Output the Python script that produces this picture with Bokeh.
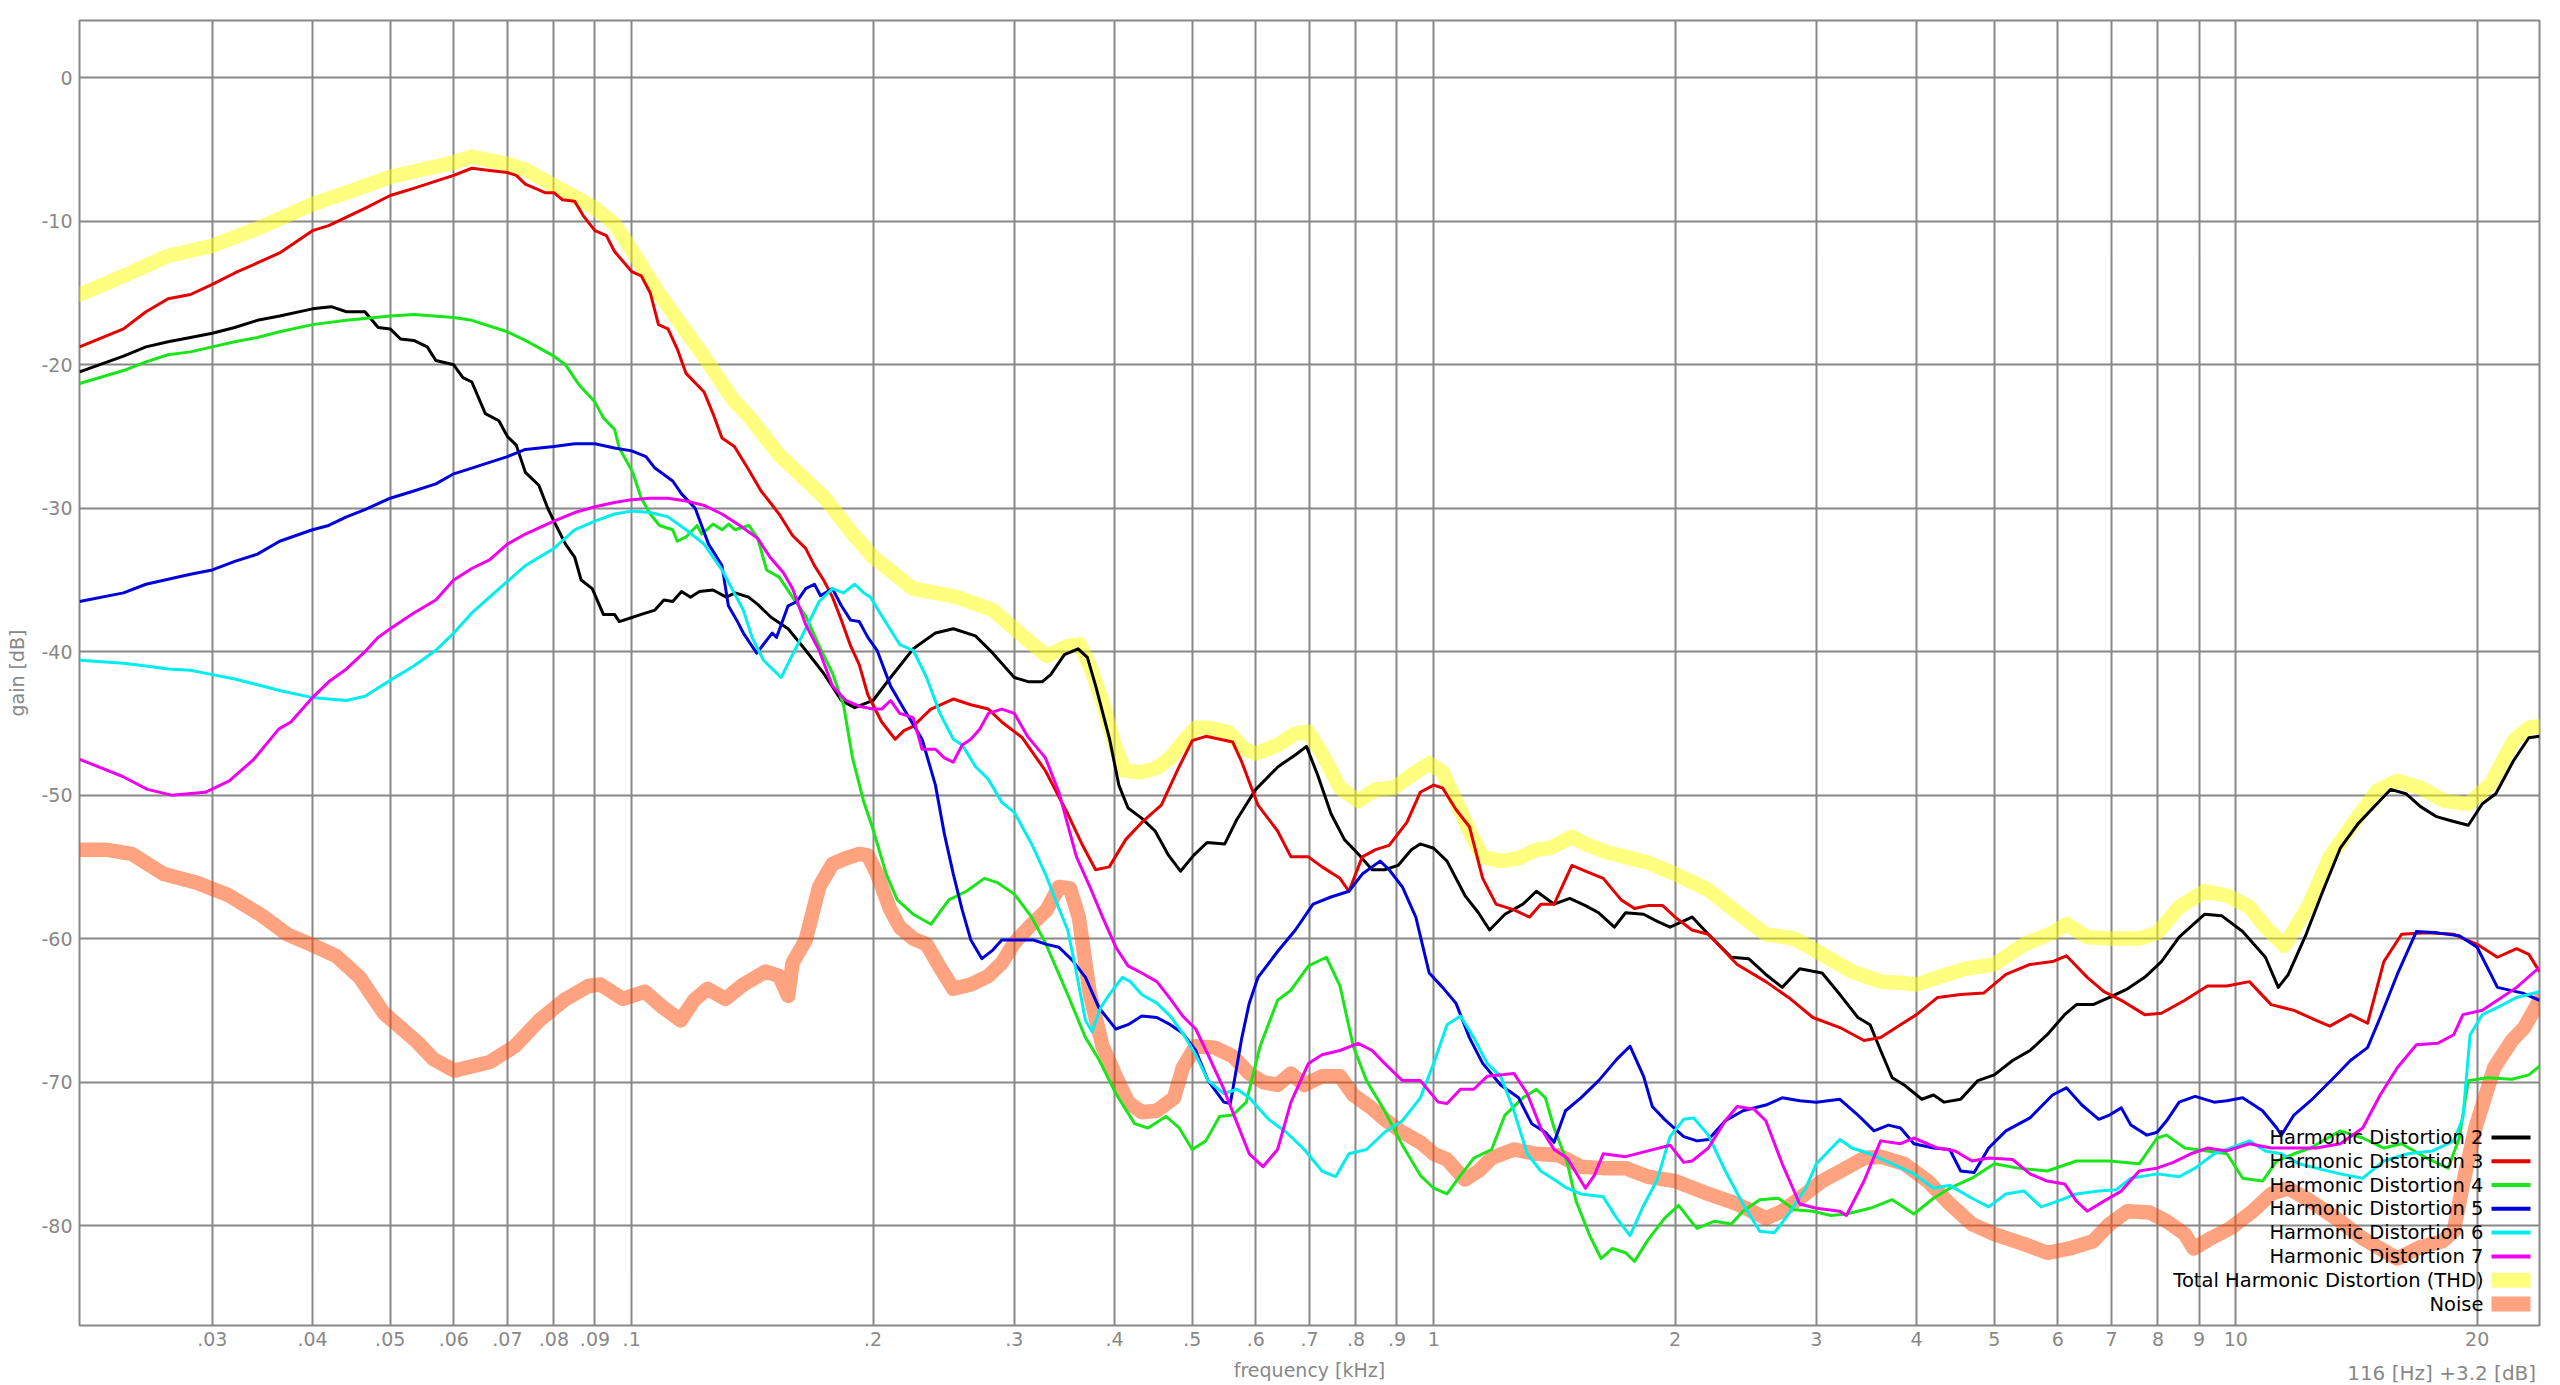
from bokeh.plotting import figure
from bokeh.models import Range1d, FixedTicker, Label, BoxAnnotation, Title
from bokeh.embed import file_html
from bokeh.resources import INLINE

# ---------------- data (frequency in kHz, level in dB) ----------------
hd2_khz = [0.0205, 0.02325, 0.0248, 0.02643, 0.02818, 0.030, 0.032, 0.03415, 0.0364, 0.040, 0.0422, 0.0441, 0.0465,
           0.0483, 0.050, 0.0515, 0.0535, 0.0556, 0.057, 0.060, 0.0616, 0.0632, 0.0657, 0.0683, 0.070, 0.0718, 0.0737,
           0.0766, 0.0786, 0.080, 0.0827, 0.0849, 0.0865, 0.0893, 0.0922, 0.0952, 0.0965, 0.1003, 0.1028, 0.1069,
           0.1097, 0.1125, 0.1154, 0.1184, 0.1215, 0.1263, 0.1312, 0.1346, 0.1399, 0.1436, 0.1492, 0.1567, 0.1648,
           0.1735, 0.1826, 0.1897, 0.200, 0.2103, 0.2244, 0.2392, 0.2518, 0.2683, 0.282, 0.300, 0.3128, 0.3249, 0.333,
           0.3464, 0.3603, 0.370, 0.379, 0.3944, 0.405, 0.4158, 0.4323, 0.4494, 0.4672, 0.4834, 0.502, 0.5217, 0.5489,
           0.5683, 0.600, 0.6403, 0.672, 0.694, 0.7167, 0.7447, 0.774, 0.8053, 0.838, 0.8685, 0.9026, 0.9379, 0.962,
           1.0, 1.039, 1.094, 1.137, 1.174, 1.227, 1.292, 1.343, 1.413, 1.478, 1.546, 1.606, 1.68, 1.735, 1.827, 1.9,
           1.971, 2.1, 2.2, 2.35, 2.47, 2.595, 2.72, 2.86, 3.05, 3.21, 3.38, 3.5, 3.608, 3.73, 3.86, 4.06, 4.2, 4.33,
           4.54, 4.77, 5.0, 5.27, 5.54, 5.82, 6.12, 6.33, 6.64, 6.96, 7.33, 7.7, 8.08, 8.5, 9.15, 9.6, 10.2, 10.89,
           11.3, 11.63, 12.24, 12.84, 13.5, 14.2, 15.0, 15.6, 16.3, 17.0, 17.8, 18.6, 19.5, 20.3, 21.1, 22.2, 23.2, 23.92]
hd2_db = [-20.5, -19.4, -18.75, -18.4, -18.1, -17.8, -17.4, -16.9, -16.6, -16.1, -15.95, -16.3, -16.3,
          -17.4, -17.5, -18.2, -18.3, -18.75, -19.7, -20.0, -20.9, -21.2, -23.4, -23.9, -25.0, -25.6, -27.5,
          -28.4, -30.0, -30.9, -32.5, -33.4, -35.0, -35.6, -37.4, -37.4, -37.9, -37.6, -37.4, -37.1,
          -36.4, -36.5, -35.8, -36.2, -35.8, -35.7, -36.2, -35.9, -36.2, -36.7, -37.6, -38.4, -39.9,
          -41.5, -43.4, -43.9, -43.4, -41.8, -39.8, -38.7, -38.4, -38.9, -40.1, -41.8, -42.1, -42.1, -41.6,
          -40.2, -39.8, -40.4, -42.4, -46.1, -49.3, -50.9, -51.6, -52.5, -54.2, -55.3, -54.2, -53.3, -53.4,
          -51.7, -49.6, -48.0, -47.2, -46.6, -48.6, -51.3, -53.1, -54.1, -55.2, -55.2, -54.9, -53.8, -53.4,
          -53.7, -54.6, -57.0, -58.2, -59.4, -58.3, -57.6, -56.7, -57.6, -57.2, -57.7, -58.2, -59.2, -58.2, -58.3, -58.8,
          -59.2, -58.5, -59.7, -61.3, -61.4, -62.5, -63.4, -62.1, -62.4, -63.9, -65.5, -66.0, -67.8, -69.7, -70.2, -71.2, -70.9, -71.4,
          -71.2, -69.9, -69.5, -68.5, -67.8, -66.7, -65.3, -64.6, -64.6, -64.1, -63.5, -62.7, -61.6, -59.9, -58.3, -58.4, -59.5, -61.3,
          -63.4, -62.5, -59.7, -56.7, -53.7, -52.0, -50.6, -49.6, -49.9, -50.8, -51.5, -51.8, -52.1, -50.6, -49.9, -47.6, -46.0, -45.9]

hd3_khz = [0.0205, 0.02325, 0.0248, 0.02643, 0.02818, 0.030, 0.032, 0.03415, 0.0364, 0.040, 0.0419, 0.0441, 0.0465,
           0.050, 0.0535, 0.057, 0.060, 0.0632, 0.0665, 0.070, 0.0718, 0.0737, 0.078, 0.080, 0.082, 0.0849, 0.087,
           0.090, 0.093, 0.0952, 0.100, 0.1028, 0.1055, 0.108, 0.111, 0.114, 0.1169, 0.1231, 0.1263, 0.1296, 0.1343,
           0.1395, 0.145, 0.1527, 0.1587, 0.1648, 0.169, 0.1735, 0.178, 0.1826, 0.1875, 0.1922, 0.197, 0.205, 0.2131,
           0.2185, 0.2244, 0.2361, 0.2518, 0.2648, 0.2785, 0.2894, 0.307, 0.328, 0.3497, 0.3642, 0.3788, 0.394, 0.413,
           0.4325, 0.4575, 0.4817, 0.5, 0.5199, 0.5616, 0.5765, 0.6039, 0.6388, 0.6638, 0.698, 0.7257, 0.7641, 0.784,
           0.8146, 0.8466, 0.88, 0.9259, 0.962, 1.0, 1.026, 1.066, 1.108, 1.151, 1.196, 1.259, 1.317, 1.36, 1.413,
           1.487, 1.546, 1.627, 1.713, 1.78, 1.85, 1.93, 2.0, 2.099, 2.2, 2.39, 2.595, 2.77, 2.97, 3.21, 3.44, 3.608,
           3.82, 4.0, 4.25, 4.54, 4.85, 5.17, 5.54, 5.91, 6.15, 6.53, 6.85, 7.2, 7.7, 8.08, 8.64, 9.22, 9.75, 10.4,
           11.07, 11.82, 12.6, 13.1, 13.9, 14.6, 15.3, 16.1, 17.3, 18.7, 20.0, 21.2, 22.4, 23.2, 23.92]
hd3_db = [-18.75, -17.5, -16.3, -15.4, -15.1, -14.4, -13.6, -12.9, -12.2, -10.65, -10.3, -9.7, -9.1,
          -8.2, -7.7, -7.2, -6.8, -6.3, -6.45, -6.6, -6.8, -7.4, -8.0, -8.0, -8.5, -8.6, -9.6,
          -10.65, -11.0, -12.1, -13.5, -13.8, -15.0, -17.2, -17.5, -18.9, -20.6, -21.9, -23.4, -25.1, -25.7,
          -27.2, -28.8, -30.4, -31.9, -32.8, -34.0, -35.0, -36.2, -37.8, -39.6, -40.9, -43.0, -44.9, -46.1,
          -45.5, -45.2, -44.0, -43.3, -43.7, -44.0, -44.9, -46.0, -48.3, -51.3, -53.4, -55.2, -55.0, -53.1,
          -51.9, -50.7, -48.0, -46.2, -45.9, -46.3, -47.7, -50.7, -52.5, -54.3, -54.3, -55.0, -55.8, -56.7,
          -54.3, -53.8, -53.5, -51.9, -49.8, -49.3, -49.5, -51.0, -52.2, -55.8, -57.6, -58.0, -58.5, -57.6, -57.6,
          -54.9, -55.3, -55.8, -57.3, -57.9, -57.7, -57.7, -58.5, -59.4, -59.7, -61.8, -63.0, -64.1, -65.5, -66.2, -67.1, -66.9,
          -66.0, -65.3, -64.1, -63.9, -63.8, -62.5, -61.8, -61.6, -61.2, -62.7, -63.7, -64.3, -65.3, -65.2, -64.3, -63.3, -63.3, -63.0,
          -64.6, -65.0, -65.7, -66.1, -65.3, -65.9, -61.6, -59.7, -59.6, -59.7, -60.4, -61.3, -60.7, -61.1, -62.3]

hd4_khz = [0.0205, 0.02325, 0.0248, 0.02643, 0.02818, 0.030, 0.032, 0.03415, 0.0364, 0.040, 0.0441, 0.050, 0.0535,
           0.060, 0.0632, 0.070, 0.0737, 0.080, 0.0827, 0.086, 0.090, 0.0922, 0.0952, 0.0965, 0.1003, 0.1028, 0.1055,
           0.1083, 0.1125, 0.114, 0.1169, 0.1207, 0.1223, 0.1263, 0.1296, 0.1321, 0.1346, 0.140, 0.1436, 0.1473,
           0.1527, 0.1587, 0.1648, 0.1713, 0.178, 0.1837, 0.1885, 0.1948, 0.200, 0.2077, 0.2144, 0.2244, 0.2361,
           0.2486, 0.2615, 0.2752, 0.286, 0.300, 0.3153, 0.328, 0.3497, 0.368, 0.3823, 0.4015, 0.4237, 0.4403, 0.4636,
           0.4817, 0.5, 0.5199, 0.5407, 0.5616, 0.5839, 0.6075, 0.6388, 0.6638, 0.698, 0.7349, 0.7641, 0.7938, 0.8246,
           0.8685, 0.9141, 0.9623, 1.0, 1.039, 1.08, 1.122, 1.181, 1.227, 1.292, 1.343, 1.378, 1.413, 1.467, 1.505,
           1.565, 1.617, 1.67, 1.735, 1.78, 1.85, 1.94, 2.02, 2.1, 2.13, 2.24, 2.35, 2.43, 2.55, 2.69, 2.817, 2.97,
           3.13, 3.27, 3.5, 3.73, 3.97, 4.2, 4.4, 4.69, 5.0, 5.35, 5.82, 6.33, 6.96, 7.58, 7.98, 8.2, 8.64, 9.22, 9.75,
           10.2, 10.8, 11.25, 11.82, 12.4, 13.5, 14.4, 15.3, 16.1, 17.3, 18.4, 19.0, 19.5, 20.6, 22.1, 23.2, 23.92]
hd4_db = [-21.3, -20.4, -19.8, -19.3, -19.1, -18.75, -18.4, -18.1, -17.7, -17.2, -16.9, -16.6, -16.5,
          -16.7, -16.9, -17.7, -18.3, -19.4, -20.0, -21.4, -22.6, -23.7, -24.5, -25.8, -27.5, -29.3, -30.4,
          -31.2, -31.5, -32.3, -32.0, -31.2, -31.8, -31.1, -31.5, -31.1, -31.5, -31.2, -32.1, -34.3,
          -34.8, -36.2, -37.5, -39.6, -41.5, -43.7, -47.4, -50.5, -52.4, -55.5, -57.3, -58.3, -59.0,
          -57.3, -56.7, -55.8, -56.1, -56.9, -58.5, -60.3, -63.9, -66.9, -68.4, -70.8, -72.9, -73.2, -72.4,
          -73.2, -74.7, -74.1, -72.4, -72.3, -71.4, -67.5, -64.3, -63.6, -61.9, -61.3, -63.3, -67.5, -69.9,
          -72.0, -74.4, -76.5, -77.4, -77.8, -76.5, -75.3, -74.7, -72.3, -71.1, -70.5, -71.1, -73.2, -75.6, -78.3,
          -80.7, -82.3, -81.6, -81.9, -82.5, -81.0, -79.5, -78.6, -79.8, -80.2, -79.7, -79.9, -79.0, -78.2, -78.1, -78.9, -79.0,
          -79.3, -79.2, -78.8, -78.2, -79.2, -78.1, -77.4, -76.7, -75.7, -76.0, -76.2, -75.5, -75.5, -75.7, -73.9, -73.7, -74.6, -74.8, -75.0,
          -76.7, -76.9, -75.5, -75.0, -74.6, -73.4, -73.9, -74.6, -74.3, -75.3, -76.0, -73.9, -69.9, -69.7, -69.8, -69.5, -68.9]

hd5_khz = [0.0205, 0.02325, 0.0248, 0.02643, 0.02818, 0.030, 0.032, 0.03415, 0.0364, 0.040, 0.0419, 0.0441, 0.0465,
           0.050, 0.0535, 0.057, 0.060, 0.0632, 0.0665, 0.070, 0.0737, 0.080, 0.0849, 0.090, 0.0952, 0.100, 0.1042,
           0.1069, 0.1125, 0.1154, 0.120, 0.1247, 0.1296, 0.132, 0.1352, 0.1378, 0.1432, 0.1497, 0.1516, 0.1567,
           0.1607, 0.1648, 0.169, 0.172, 0.178, 0.1826, 0.1875, 0.1922, 0.197, 0.2023, 0.2103, 0.2185, 0.2302, 0.2392,
           0.2454, 0.2518, 0.2583, 0.2648, 0.2733, 0.282, 0.2894, 0.3048, 0.3169, 0.3292, 0.341, 0.3542, 0.368, 0.3823,
           0.4015, 0.4158, 0.4325, 0.4517, 0.4695, 0.4866, 0.505, 0.5233, 0.5475, 0.5578, 0.5765, 0.5889, 0.6039,
           0.6388, 0.6723, 0.7073, 0.7447, 0.784, 0.8146, 0.8575, 0.88, 0.9141, 0.95, 0.9873, 1.026, 1.066, 1.108,
           1.151, 1.212, 1.276, 1.325, 1.378, 1.413, 1.46, 1.526, 1.606, 1.692, 1.757, 1.827, 1.873, 1.94, 2.05, 2.13,
           2.2, 2.31, 2.43, 2.595, 2.72, 2.86, 3.0, 3.21, 3.38, 3.54, 3.69, 3.82, 3.97, 4.2, 4.4, 4.54, 4.72, 4.92,
           5.17, 5.54, 5.91, 6.15, 6.43, 6.75, 6.96, 7.2, 7.4, 7.75, 7.98, 8.2, 8.5, 8.9, 9.4, 9.75, 10.2, 10.8, 11.25,
           11.4, 11.82, 12.4, 13.25, 13.9, 14.6, 15.14, 15.9, 16.8, 17.85, 19.0, 20.0, 21.2, 22.8, 23.92]
hd5_db = [-36.5, -35.9, -35.3, -34.95, -34.6, -34.3, -33.7, -33.2, -32.3, -31.5, -31.2, -30.6, -30.1,
          -29.3, -28.8, -28.3, -27.6, -27.2, -26.8, -26.4, -25.9, -25.7, -25.5, -25.5, -25.8, -26.0, -26.4,
          -27.2, -28.1, -29.0, -30.0, -32.5, -34.0, -36.8, -37.8, -38.7, -40.1, -38.7, -39.0, -36.8,
          -36.5, -35.6, -35.3, -36.1, -35.6, -36.8, -37.8, -37.9, -39.0, -39.9, -42.4, -44.0, -46.1, -49.3,
          -52.7, -55.5, -58.0, -60.1, -61.4, -60.8, -60.1, -60.1, -60.1, -60.4, -60.6, -61.5, -62.7, -64.8,
          -66.3, -66.0, -65.4, -65.5, -66.0, -66.6, -67.8, -69.9, -71.4, -71.5, -66.9, -64.5, -62.7,
          -60.9, -59.4, -57.6, -57.1, -56.7, -55.5, -54.6, -55.2, -56.4, -58.5, -62.4, -63.4, -64.5, -66.9,
          -68.7, -70.2, -71.1, -72.9, -73.5, -74.2, -72.0, -71.1, -69.9, -68.4, -67.5, -69.6, -71.7, -72.6, -73.8, -74.1,
          -74.0, -72.7, -72.0, -71.6, -71.1, -71.3, -71.4, -71.2, -72.3, -73.4, -73.0, -73.2, -74.3, -74.6, -74.7, -76.2, -76.3, -74.6,
          -73.4, -72.5, -70.9, -70.4, -71.6, -72.6, -72.3, -71.8, -73.0, -73.7, -73.5, -72.7, -71.4, -71.0, -71.4, -71.3, -71.1, -72.0, -73.2,
          -73.7, -72.3, -71.3, -69.7, -68.5, -67.6, -65.5, -62.5, -59.5, -59.6, -59.8, -60.6, -63.4, -63.8, -64.3]

hd6_khz = [0.0205, 0.02325, 0.0248, 0.02643, 0.02818, 0.030, 0.032, 0.03415, 0.0364, 0.040, 0.0419, 0.0441, 0.0465,
           0.050, 0.0535, 0.057, 0.060, 0.0632, 0.0665, 0.070, 0.0737, 0.080, 0.0849, 0.090, 0.0952, 0.100, 0.1055,
           0.111, 0.1169, 0.1231, 0.1296, 0.1378, 0.1413, 0.146, 0.1497, 0.1536, 0.1587, 0.1648, 0.1713, 0.178,
           0.1837, 0.1897, 0.1948, 0.1985, 0.205, 0.2159, 0.2244, 0.2332, 0.2423, 0.2518, 0.2583, 0.2683, 0.2785,
           0.2894, 0.300, 0.3153, 0.328, 0.341, 0.3497, 0.3586, 0.368, 0.375, 0.3844, 0.394, 0.4091, 0.4187, 0.4325,
           0.4517, 0.4695, 0.4866, 0.505, 0.5233, 0.5475, 0.569, 0.5889, 0.6226, 0.655, 0.6897, 0.7257, 0.7546, 0.784,
           0.8246, 0.8685, 0.9141, 0.9623, 1.0, 1.039, 1.08, 1.122, 1.166, 1.212, 1.259, 1.308, 1.36, 1.413, 1.467,
           1.526, 1.627, 1.692, 1.757, 1.827, 1.9, 1.971, 2.05, 2.11, 2.2, 2.31, 2.43, 2.55, 2.66, 2.77, 2.91, 3.0,
           3.21, 3.323, 3.5, 3.73, 3.97, 4.2, 4.4, 4.69, 4.92, 5.17, 5.447, 5.72, 6.0, 6.33, 6.75, 7.1, 7.4, 7.98, 8.5,
           8.9, 9.4, 9.84, 10.4, 10.89, 11.4, 12.0, 12.6, 13.5, 14.4, 15.3, 16.4, 17.6, 18.7, 19.2, 19.6, 20.3, 21.2,
           22.4, 23.92]
hd6_db = [-40.6, -40.8, -41.0, -41.2, -41.3, -41.6, -41.9, -42.3, -42.7, -43.2, -43.3, -43.4, -43.1,
          -42.0, -41.0, -39.9, -38.7, -37.3, -36.2, -35.1, -34.0, -32.8, -31.5, -30.9, -30.4, -30.2, -30.3,
          -30.6, -31.5, -32.5, -34.3, -37.1, -39.0, -40.6, -41.2, -41.8, -40.2, -38.4, -36.5, -35.6,
          -35.9, -35.3, -35.9, -36.2, -37.5, -39.5, -39.9, -41.8, -44.3, -46.1, -46.5, -48.0, -48.9,
          -50.5, -51.2, -53.4, -55.5, -57.9, -59.4, -62.4, -65.7, -66.5, -64.8, -63.9, -62.7, -63.0, -63.9,
          -64.5, -65.4, -66.6, -68.1, -69.9, -70.8, -70.5, -71.1, -72.6, -73.5, -74.7, -76.2, -76.6, -75.0,
          -74.7, -73.5, -72.7, -71.1, -68.7, -66.0, -65.4, -66.9, -68.7, -69.6, -72.0, -75.0, -76.2, -76.8, -77.4,
          -77.8, -78.0, -79.5, -80.7, -78.6, -76.8, -73.8, -72.6, -72.5, -73.7, -76.2, -78.5, -80.4, -80.5, -79.2, -77.4, -75.7,
          -74.0, -74.6, -75.0, -75.7, -76.4, -77.4, -77.2, -78.1, -78.7, -77.8, -77.6, -78.7, -78.3, -77.8, -77.6, -77.5, -76.7, -76.4, -76.6,
          -76.0, -75.0, -74.6, -74.1, -74.8, -75.0, -75.7, -76.0, -76.4, -76.7, -75.5, -75.0, -74.8, -74.1, -72.5, -66.7, -65.3, -64.8,
          -64.1, -63.7]

hd7_khz = [0.0205, 0.0232, 0.0249, 0.0267, 0.0294, 0.0315, 0.0338, 0.0363, 0.0376, 0.040, 0.0419, 0.0441, 0.0465,
           0.0483, 0.050, 0.0535, 0.057, 0.060, 0.0632, 0.0665, 0.070, 0.0737, 0.080, 0.0849, 0.090, 0.0952, 0.100,
           0.1055, 0.111, 0.1169, 0.1231, 0.1296, 0.1364, 0.1436, 0.1487, 0.1546, 0.1587, 0.1648, 0.1713, 0.178,
           0.185, 0.1922, 0.200, 0.205, 0.2103, 0.2159, 0.2244, 0.2302, 0.2392, 0.2454, 0.2518, 0.2583, 0.2648,
           0.2716, 0.2785, 0.2894, 0.300, 0.3116, 0.328, 0.341, 0.3586, 0.3727, 0.3865, 0.4015, 0.4158, 0.4325,
           0.4517, 0.4695, 0.4866, 0.505, 0.5233, 0.5475, 0.569, 0.5889, 0.6126, 0.6388, 0.6638, 0.698, 0.7257,
           0.7641, 0.8053, 0.838, 0.8685, 0.9141, 0.9623, 1.013, 1.039, 1.08, 1.122, 1.166, 1.259, 1.308, 1.36,
           1.413, 1.467, 1.546, 1.586, 1.627, 1.735, 1.85, 1.971, 2.05, 2.1, 2.2, 2.31, 2.39, 2.51, 2.595, 2.72,
           2.86, 3.0, 3.21, 3.27, 3.44, 3.608, 3.82, 3.97, 4.25, 4.47, 4.69, 4.92, 5.27, 5.54, 5.82, 6.12, 6.33,
           6.53, 6.85, 7.2, 7.58, 7.98, 8.36, 8.79, 9.22, 9.75, 10.4, 11.07, 11.82, 12.6, 13.5, 14.4, 15.14, 15.9,
           16.8, 17.85, 18.7, 19.2, 20.3, 21.2, 22.4, 23.92]
hd7_db = [-47.5, -48.7, -49.6, -50.0, -49.8, -49.0, -47.5, -45.4, -44.9, -43.2, -42.1, -41.2, -40.0,
          -39.0, -38.4, -37.3, -36.4, -35.0, -34.2, -33.6, -32.5, -31.8, -30.9, -30.3, -29.9, -29.6, -29.4,
          -29.3, -29.3, -29.5, -29.8, -30.4, -31.2, -32.1, -33.4, -34.5, -35.6, -38.1, -39.9, -42.4,
          -43.4, -43.8, -44.0, -44.0, -43.4, -44.3, -44.6, -46.8, -46.8, -47.4, -47.7, -46.5, -46.1,
          -45.4, -44.3, -44.0, -44.3, -45.9, -47.4, -49.8, -54.3, -56.4, -58.5, -60.6, -61.9, -62.4,
          -63.0, -64.2, -65.4, -66.3, -68.1, -70.5, -72.9, -75.0, -75.9, -74.7, -71.4, -68.7, -68.1,
          -67.8, -67.3, -67.8, -68.7, -69.9, -69.9, -71.4, -71.5, -70.5, -70.5, -69.6, -69.4, -70.8, -73.2,
          -74.7, -75.3, -77.4, -76.5, -75.0, -75.2, -74.8, -74.4, -75.6, -75.5, -74.6, -72.7, -71.7, -71.9, -72.7, -75.7,
          -78.5, -78.8, -79.0, -79.3, -76.9, -74.1, -74.3, -73.9, -74.6, -74.8, -75.5, -75.3, -75.4, -76.4, -76.9, -77.1, -78.3,
          -79.0, -78.3, -77.6, -76.2, -76.0, -75.6, -75.0, -74.6, -74.8, -74.3, -74.6, -74.6, -74.6, -74.3, -73.2, -70.9, -69.0,
          -67.4, -67.3, -66.7, -65.3, -65.0, -64.3, -63.4, -62.0]

thd_khz = [0.0205, 0.02325, 0.02643, 0.030, 0.03415, 0.040, 0.0441, 0.050, 0.060, 0.0632, 0.070, 0.0737, 0.080,
           0.0849, 0.090, 0.0952, 0.100, 0.108, 0.123, 0.134, 0.140, 0.1528, 0.1735, 0.1875, 0.200, 0.2241, 0.2549,
           0.282, 0.300, 0.3292, 0.350, 0.362, 0.3727, 0.3865, 0.400, 0.412, 0.4325, 0.4517, 0.4695, 0.4866, 0.505,
           0.5233, 0.5544, 0.5809, 0.600, 0.6388, 0.6723, 0.698, 0.7257, 0.7641, 0.8053, 0.8466, 0.8912, 0.9379,
           0.9873, 1.026, 1.066, 1.108, 1.151, 1.212, 1.276, 1.343, 1.395, 1.487, 1.546, 1.648, 1.735, 1.85, 2.0, 2.2,
           2.39, 2.595, 2.817, 3.05, 3.323, 3.608, 3.86, 4.0, 4.25, 4.6, 5.0, 5.447, 5.91, 6.15, 6.53, 6.96, 7.58,
           7.98, 8.5, 9.15, 9.75, 10.4, 10.89, 11.5, 12.3, 13.1, 14.0, 15.0, 15.9, 17.0, 18.2, 19.5, 20.8, 22.2, 23.2,
           23.92]
thd_db = [-15.1, -13.8, -12.4, -11.7, -10.5, -8.8, -8.0, -6.9, -5.9, -5.5, -6.0, -6.4, -7.5,
          -8.3, -9.1, -10.2, -12.0, -15.0, -19.4, -22.5, -23.6, -26.3, -29.2, -31.6, -33.4, -35.6, -36.2,
          -37.1, -38.4, -40.3, -39.6, -39.5, -41.0, -43.5, -46.5, -48.3, -48.4, -48.1, -47.4, -46.3, -45.3,
          -45.3, -45.6, -46.8, -47.1, -46.5, -45.7, -45.6, -47.1, -49.5, -50.4, -49.6, -49.5, -48.6,
          -47.8, -48.4, -50.4, -52.5, -54.3, -54.6, -54.4, -53.8, -53.7, -52.9, -53.4, -54.0, -54.3, -54.7, -55.5, -56.6,
          -58.2, -59.7, -60.0, -61.1, -62.3, -63.0, -63.1, -63.2, -62.7, -62.1, -61.8, -60.4, -59.6, -59.0, -59.9, -60.0, -60.0,
          -59.6, -57.8, -56.7, -57.0, -57.8, -59.2, -60.5, -57.8, -54.3, -52.0, -49.7, -49.0, -49.5, -50.4, -50.6, -49.2, -46.2, -45.3,
          -45.2]

noise_khz = [0.0205, 0.0221, 0.0238, 0.0261, 0.0287, 0.0315, 0.0346, 0.0372, 0.0398, 0.0428, 0.0458, 0.0491, 0.054,
             0.0566, 0.0601, 0.0666, 0.0715, 0.0767, 0.0823, 0.0883, 0.0914, 0.0975, 0.1039, 0.1094, 0.1151, 0.1196,
             0.1243, 0.1309, 0.1378, 0.1469, 0.1527, 0.1567, 0.1587, 0.1648, 0.1713, 0.178, 0.185, 0.1922, 0.197,
             0.2023, 0.2102, 0.2159, 0.2244, 0.2332, 0.2423, 0.2518, 0.2648, 0.2785, 0.2894, 0.300, 0.3128, 0.3292,
             0.341, 0.352, 0.361, 0.3727, 0.3865, 0.4015, 0.4158, 0.4325, 0.4517, 0.4745, 0.4866, 0.505, 0.5333,
             0.5616, 0.5889, 0.6126, 0.6388, 0.6638, 0.6897, 0.7257, 0.7641, 0.7938, 0.8359, 0.8685, 0.9141, 0.9623,
             1.0, 1.039, 1.094, 1.137, 1.181, 1.259, 1.343, 1.432, 1.526, 1.627, 1.735, 1.85, 2.0, 2.2, 2.39, 2.595,
             2.72, 2.86, 3.05, 3.267, 3.44, 3.608, 3.86, 4.13, 4.4, 4.69, 5.0, 5.447, 5.82, 6.21, 6.64, 6.96, 7.33,
             7.82, 8.2, 8.64, 8.86, 9.3, 9.84, 10.5, 11.07, 11.63, 12.4, 13.5, 14.4, 15.14, 15.9, 17.0, 18.1, 18.7,
             19.2, 19.9, 21.0, 22.1, 22.9, 23.92]
noise_db = [-53.8, -53.8, -54.1, -55.5, -56.1, -57.0, -58.4, -59.7, -60.4, -61.2, -62.7, -65.2, -67.2,
            -68.4, -69.2, -68.6, -67.5, -65.7, -64.3, -63.3, -63.2, -64.2, -63.7, -64.8, -65.7, -64.3,
            -63.5, -64.2, -63.2, -62.3, -62.6, -64.0, -61.7, -60.1, -56.4, -54.8, -54.4, -54.1, -54.2,
            -55.5, -58.0, -59.2, -60.0, -60.4, -62.0, -63.5, -63.2, -62.6, -61.7, -60.3, -59.2, -58.0,
            -56.4, -56.5, -58.5, -63.9, -67.5, -69.6, -71.4, -72.1, -72.0, -71.1, -69.0, -67.5, -67.6,
            -68.2, -69.4, -70.0, -70.2, -69.4, -70.2, -69.6, -69.6, -70.9, -71.8, -72.6, -73.5, -74.2,
            -75.0, -75.4, -76.8, -76.2, -75.3, -74.7, -75.0, -75.1, -75.9, -76.0, -76.0, -76.6, -76.9, -77.8, -78.5, -79.5,
            -79.0, -78.1, -76.9, -76.0, -75.3, -75.2, -75.7, -76.9, -78.5, -79.9, -80.6, -81.3, -81.9, -81.6, -81.1, -79.9, -79.0,
            -79.1, -79.7, -80.6, -81.6, -80.9, -80.2, -79.0, -77.8, -77.4, -78.3, -79.7, -80.9, -81.6, -82.3, -81.5, -81.1, -80.4,
            -77.1, -73.2, -69.0, -67.1, -66.2, -64.3]

x_ticks = [0.03, 0.04, 0.05, 0.06, 0.07, 0.08, 0.09, 0.1, 0.2, 0.3, 0.4, 0.5, 0.6, 0.7, 0.8, 0.9,
           1, 2, 3, 4, 5, 6, 7, 8, 9, 10, 20]
x_tick_labels = [".03", ".04", ".05", ".06", ".07", ".08", ".09", ".1", ".2", ".3", ".4", ".5", ".6", ".7", ".8", ".9",
                 "1", "2", "3", "4", "5", "6", "7", "8", "9", "10", "20"]
y_ticks = [-80, -70, -60, -50, -40, -30, -20, -10, 0]
y_tick_labels = ["-80", "-70", "-60", "-50", "-40", "-30", "-20", "-10", "0"]

series_names = ["Harmonic Distortion 2", "Harmonic Distortion 3", "Harmonic Distortion 4",
                "Harmonic Distortion 5", "Harmonic Distortion 6", "Harmonic Distortion 7",
                "Total Harmonic Distortion (THD)", "Noise"]
series_colors = ["#000000", "#e60000", "#19e619", "#0000dc", "#00eeee", "#f000f0", "#ffff00", "#ff4500"]
corner_note = "116 [Hz]  +3.2 [dB]"

# ---------------- figure ----------------
FONT = "DejaVu Sans"
GREY = "#888888"
W, H = 2560, 1385
BL, BR, BT, BB = 79, 21, 20, 60

p = figure(width=W, height=H, x_axis_type="log",
           x_range=Range1d(0.02049, 23.92), y_range=Range1d(-86.97, 4.0),
           output_backend="svg", toolbar_location=None,
           min_border_left=BL, min_border_right=BR, min_border_top=BT, min_border_bottom=BB)
p.background_fill_color = "white"
p.border_fill_color = "white"
p.outline_line_color = GREY
p.outline_line_width = 2

p.xaxis.ticker = FixedTicker(ticks=x_ticks, minor_ticks=[])
p.xaxis.major_label_overrides = {t: l for t, l in zip(x_ticks, x_tick_labels)}
p.yaxis.ticker = FixedTicker(ticks=y_ticks, minor_ticks=[])
p.yaxis.major_label_overrides = {t: l for t, l in zip(y_ticks, y_tick_labels)}

for ax in (p.xaxis, p.yaxis):
    ax.axis_line_color = None
    ax.major_tick_line_color = None
    ax.minor_tick_line_color = None
    ax.major_tick_out = 0
    ax.major_tick_in = 0
    ax.major_label_text_font = FONT
    ax.major_label_text_font_size = "19px"
    ax.major_label_text_color = GREY
    ax.axis_label_text_font = FONT
    ax.axis_label_text_font_size = "19px"
    ax.axis_label_text_color = GREY
    ax.axis_label_text_font_style = "normal"

p.xaxis.axis_label = "frequency [kHz]"
p.yaxis.axis_label = "gain [dB]"
p.xaxis.major_label_standoff = 6
p.xaxis.axis_label_standoff = 10
p.yaxis.major_label_standoff = 7
p.yaxis.axis_label_standoff = 10

for g in (p.xgrid, p.ygrid):
    g.grid_line_color = GREY
    g.grid_line_width = 2

# wide translucent bands underneath
p.line(thd_khz, thd_db, line_color=series_colors[6], line_alpha=0.5, line_width=14.5,
       line_join="round", line_cap="round")
p.line(noise_khz, noise_db, line_color=series_colors[7], line_alpha=0.5, line_width=14.5,
       line_join="round", line_cap="round")

hd_data = [(hd2_khz, hd2_db), (hd3_khz, hd3_db), (hd4_khz, hd4_db),
           (hd5_khz, hd5_db), (hd6_khz, hd6_db), (hd7_khz, hd7_db)]
for (fx, fy), c in zip(hd_data, series_colors[:6]):
    p.line(fx, fy, line_color=c, line_width=3, line_join="round")

# ---------------- legend (text on the left, swatch on the right) ----------------
FW = W - BL - BR
for i, (name, c) in enumerate(zip(series_names, series_colors)):
    yc = 21.5 + (len(series_names) - 1 - i) * 23.8
    p.add_layout(Label(x=FW - 56, y=yc, x_units="screen", y_units="screen", text=name,
                       text_align="right", text_baseline="middle", text_font=FONT,
                       text_font_size="19.5px", text_color="black"))
    half = 2 if i < 6 else 7.5
    alpha = 1.0 if i < 6 else 0.5
    p.add_layout(BoxAnnotation(left=FW - 48, right=FW - 9, bottom=yc - half, top=yc + half,
                               left_units="screen", right_units="screen",
                               top_units="screen", bottom_units="screen",
                               fill_color=c, fill_alpha=alpha, line_color=None, level="overlay"))

# note under the bottom-right corner: a right-aligned title in the bottom panel,
# pulled up (negative standoff) so that it shares the row of the axis label
note = Title(text=corner_note, align="right", vertical_align="top", standoff=-46, offset=-3,
             text_font=FONT, text_font_size="20px", text_color=GREY, text_font_style="normal")
p.add_layout(note, "below")

open("out.html", "w").write(file_html(p, INLINE))
